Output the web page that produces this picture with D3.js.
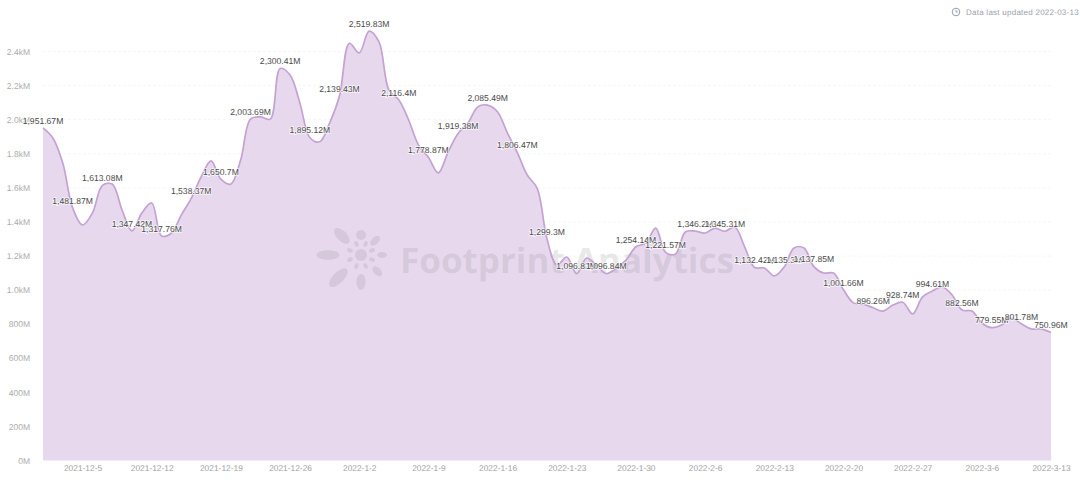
<!DOCTYPE html>
<html><head><meta charset="utf-8">
<script src="https://cdn.jsdelivr.net/npm/d3@7/dist/d3.min.js"></script>
<style>html,body{margin:0;padding:0;background:#fff}svg{display:block;font-family:"Liberation Sans",Arial,sans-serif;text-rendering:geometricPrecision}</style>
</head><body><svg id="c" width="1080" height="486"></svg>
<script>
const startDate = "2021-12-01";
const values = [1951.67,1892,1745,1481.87,1382,1452,1613.08,1622,1470,1347.42,1452,1511,1317.76,1335,1441,1538.37,1664,1758,1650.7,1622,1763,2003.69,2016,2003,2300.41,2262,2097,1895.12,1870,1980,2139.43,2448,2392,2519.83,2456,2174,2116.4,1998,1851,1778.87,1688,1811,1919.38,1980,2075,2085.49,2045,1921,1806.47,1675,1598,1299.3,1147,1194,1096.83,1188,1147,1096.84,1128,1176,1254.14,1276,1364,1221.57,1212,1341,1346.2,1335,1364,1345.31,1370,1253,1132.42,1130,1083,1135.3,1247,1247,1137.85,1100,1100,1001.66,925,917,896.26,877,912,928.74,860,960,994.61,1018,971,882.56,877,807,779.55,795,836,801.78,772,772,750.96];
const labelEvery = 3;
const yTicks = [0,200,400,600,800,1000,1200,1400,1600,1800,2000,2200,2400];
const yTickLabels = ["0M","200M","400M","600M","800M","1.0kM","1.2kM","1.4kM","1.6kM","1.8kM","2.0kM","2.2kM","2.4kM"];
const xTickLabels = ["2021-12-5","2021-12-12","2021-12-19","2021-12-26","2022-1-2","2022-1-9","2022-1-16","2022-1-23","2022-1-30","2022-2-6","2022-2-13","2022-2-20","2022-2-27","2022-3-6","2022-3-13"];
const updatedText = "Data last updated 2022-03-13";
const brandText = "Footprint Analytics";

const parse = d3.timeParse("%Y-%m-%d");
const t0 = parse(startDate);
const dates = values.map((_, i) => d3.timeDay.offset(t0, i));
const parseTick = d3.timeParse("%Y-%-m-%-d");
const fmtTick = d3.timeFormat("%Y-%-m-%-d");
const data = values.map((v, i) => ({d: dates[i], v, i}));

const svg = d3.select("#c");
const x = d3.scaleTime().domain([t0, dates[dates.length-1]]).range([43, 1051]);
const y = d3.scaleLinear().domain([0, 2400]).range([460.5, 51.5]);

// grid
svg.append("g").selectAll("line").data(yTicks.slice(1)).join("line")
  .attr("x1", 43).attr("x2", 1051).attr("y1", d => y(d)).attr("y2", d => y(d))
  .attr("stroke", "#f6f6f6").attr("stroke-dasharray", "3 2");

const curve = d3.curveCatmullRom.alpha(0.5);
svg.append("path").datum(data)
  .attr("d", d3.area().x(d => x(d.d)).y0(y(0)).y1(d => y(d.v)).curve(curve))
  .attr("fill", "#e7d8ee");

// watermark
const wm = svg.append("g").attr("fill", "#8c8c8c").attr("fill-opacity", 0.2);
const cx = 361, cy = 255;
wm.append("circle").attr("cx", cx).attr("cy", cy).attr("r", 6);
const bigPetals = [[180,33,11.5,4.8],[225,27,10,5],[270,20,5,5],[315,20,6,3.5],[0,21,5,3],[45,23,6,3.5],[90,27,8,4.5],[135,32,12,5.5]];
wm.selectAll("ellipse.p").data(bigPetals).join("ellipse").attr("class","p")
  .attr("rx", d => d[2]).attr("ry", d => d[3])
  .attr("transform", d => `rotate(${d[0]} ${cx} ${cy}) translate(${cx + d[1]} ${cy})`);
wm.selectAll("ellipse.q").data(d3.range(8)).join("ellipse").attr("class","q")
  .attr("rx", 3).attr("ry", 2)
  .attr("transform", d => `rotate(${d*45+22.5} ${cx} ${cy}) translate(${cx + 12} ${cy})`);
wm.append("text").attr("x", 400).attr("y", 273).attr("font-size", 35).attr("font-weight", 700)
  .attr("font-family", '"Open Sans","Liberation Sans",sans-serif').text(brandText);

svg.append("path").datum(data)
  .attr("d", d3.line().x(d => x(d.d)).y(d => y(d.v)).curve(curve))
  .attr("fill", "none").attr("stroke", "#c4a2d3").attr("stroke-width", 1.7);

// axes
const yAxis = d3.axisLeft(y).tickValues(yTicks).tickFormat((d, i) => yTickLabels[i]).tickSize(0).tickPadding(0);
const gy = svg.append("g").attr("transform", "translate(30,0)").call(yAxis);
gy.select(".domain").remove();
gy.selectAll("text").attr("fill", "#ababab").attr("font-size", 8.5).attr("font-family", '"Liberation Sans",Arial,sans-serif');

const xTickDates = xTickLabels.map(s => d3.timeDay.floor(parseTick(s)));
const xAxis = d3.axisBottom(x).tickValues(xTickDates).tickFormat(fmtTick).tickSize(0).tickPadding(0);
const gx = svg.append("g").attr("transform", "translate(0,465)").call(xAxis);
gx.select(".domain").remove();
gx.selectAll("text").attr("fill", "#a0a0a0").attr("font-size", 8.4).attr("font-family", '"Liberation Sans",Arial,sans-serif');

// data labels (top clipped by plot container)
svg.append("clipPath").attr("id", "clipTop").append("rect").attr("x", 0).attr("y", 21).attr("width", 1080).attr("height", 465);
svg.append("g").attr("clip-path", "url(#clipTop)")
  .selectAll("text").data(data.filter(d => d.i % labelEvery === 0)).join("text")
  .attr("x", d => x(d.d)).attr("y", d => y(d.v) - 4.2)
  .attr("text-anchor", "middle").attr("font-size", 8.6).attr("fill", "#4a4a4a")
  .attr("stroke", "#fff").attr("stroke-width", 1.6).attr("stroke-opacity", 0.75).attr("paint-order", "stroke")
  .text(d => d3.format(",.2~f")(d.v) + "M");

// header
const h = svg.append("g");
h.append("circle").attr("cx", 956).attr("cy", 12).attr("r", 3.8).attr("fill", "none").attr("stroke", "#8a93a3").attr("stroke-width", 0.9);
h.append("path").attr("d", "M956 9.8V12H958").attr("fill", "none").attr("stroke", "#8a93a3").attr("stroke-width", 0.8);
h.append("text").attr("x", 966).attr("y", 15).attr("font-size", 8).attr("letter-spacing", 0.25).attr("fill", "#9aa0ab").text(updatedText);
</script></body></html>
